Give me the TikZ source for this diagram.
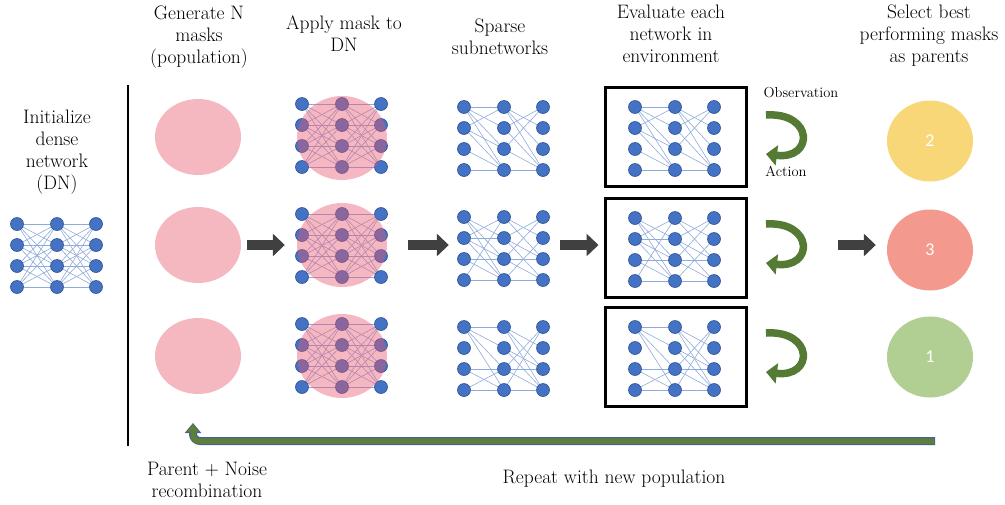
\documentclass[tikz,border=0pt]{standalone}
\usepackage{fontspec}
\newfontfamily\digitfont{Carlito}
\usetikzlibrary{arrows.meta,shapes.geometric,calc}
\definecolor{nodeblue}{HTML}{4472C4}
\definecolor{nodeedge}{HTML}{2F528F}
\definecolor{linkblue}{HTML}{8FAADC}
\definecolor{maskpink}{HTML}{F5B8C1}
\definecolor{veilred}{HTML}{E85870}
\definecolor{arrowgray}{HTML}{404040}
\definecolor{loopgreen}{HTML}{557A34}
\definecolor{retgreen}{HTML}{5E7F3C}
\definecolor{retedge}{HTML}{44648A}
\definecolor{goldfit}{HTML}{F8D778}
\definecolor{salmonfit}{HTML}{F4998D}
\definecolor{sagefit}{HTML}{B1CE93}
\pgfdeclarelayer{links}
\pgfsetlayers{links,main}
\tikzset{
  neuron/.style={circle,fill=nodeblue,draw=nodeedge,line width=0.6pt,
    minimum size=13pt,inner sep=0pt},
  link/.style={draw=linkblue,line width=0.6pt},
  maskblob/.style={ellipse,fill=maskpink,minimum width=86pt,
    minimum height=76pt,inner sep=0pt},
  maskveil/.style={ellipse,fill=veilred,fill opacity=0.43,
    minimum width=90pt,minimum height=84pt,inner sep=0pt},
  netarea/.style={rectangle,minimum width=94pt,minimum height=76pt,inner sep=0pt},
  envbox/.style={rectangle,draw=black,line width=3pt,minimum width=141pt,
    minimum height=99pt,inner sep=0pt},
  fitblob/.style={ellipse,minimum width=86pt,minimum height=81pt,inner sep=0pt,
    text=white,font=\digitfont\fontsize{18}{18}\selectfont},
  steparrow/.style={-{Triangle[length=12pt,width=22pt]},line width=10pt,
    draw=arrowgray},
  cyclearrow/.style={-{Triangle[length=11pt,width=20pt]},line width=7.5pt,
    draw=loopgreen},
  hdr/.style={align=center,inner sep=0pt,anchor=north,
    font=\fontsize{19.5}{22}\selectfont},
  cuelabel/.style={inner sep=0pt,font=\fontsize{14.5}{16}\selectfont},
}
% 4-4-4 network: nodes <name>a1..c4, plus an area node <name>
\newcommand{\netnodes}[3]{%
  \node[netarea] (#1) at (#2,#3) {};
  \foreach \col/\dx in {a/-40,b/0,c/39}
    \foreach \row/\dy in {1/-31,2/-10,3/11,4/32}
      \node[neuron] (#1\col\row) at ({#2+\dx},{#3+\dy}) {};
}
\newcommand{\fulllinks}[1]{%
  \begin{pgfonlayer}{links}
    \foreach \i in {1,...,4}
      \foreach \j in {1,...,4} {
        \draw[link] (#1a\i) -- (#1b\j);
        \draw[link] (#1b\i) -- (#1c\j);
      }
  \end{pgfonlayer}
}
\newcommand{\netlinks}[2]{%
  \begin{pgfonlayer}{links}
    \foreach \p/\q in #2 \draw[link] (#1\p) -- (#1\q);
  \end{pgfonlayer}
}
\def\sparseA{a1/b1,a1/b2,a1/b3,a1/b4,a2/b1,a2/b3,a2/b4,a3/b4,a4/b4,
  b1/c2,b1/c3,b1/c4,b2/c1,b2/c4,b3/c1,b3/c4,b4/c4}
\def\sparseB{a1/b2,a1/b3,a1/b4,a2/b1,a2/b2,a2/b3,a2/b4,a3/b3,a3/b4,a4/b1,a4/b4,
  b1/c2,b1/c3,b2/c1,b2/c3,b2/c4,b3/c1,b3/c3,b3/c4,b4/c2,b4/c4}
\def\sparseC{a1/b1,a1/b2,a1/b3,a1/b4,a3/b3,a3/b4,a4/b3,a4/b4,
  b1/c2,b1/c3,b1/c4,b2/c3,b2/c4,b3/c1,b3/c3,b3/c4,b4/c1,b4/c4}

\begin{document}
\begin{tikzpicture}[x=1pt,y=-1pt]
  \useasboundingbox (0,0) rectangle (1005,504);

  % headings
  \node[hdr] (hinit) at (57,110) {Initialize\\dense\\network\\(DN)};
  \node[hdr] (hgen) at (199,6) {Generate N\\masks\\(population)};
  \node[hdr] (happ) at (344,16) {Apply mask to\\DN};
  \node[hdr] (hspa) at (500,19) {Sparse\\subnetworks};
  \node[hdr] (heva) at (671,5) {Evaluate each\\network in\\environment};
  \node[hdr] (hsel) at (929,5) {Select best\\performing masks\\as parents};

  % divider
  \coordinate (divtop) at (128,85);
  \coordinate (divbot) at (128,446);
  \draw[line width=2pt] (divtop) -- (divbot);

  % dense network
  \netnodes{dn}{57}{255}
  \fulllinks{dn}

  % population of masks
  \node[maskblob] (m1) at (198,137) {};
  \node[maskblob] (m2) at (198,245) {};
  \node[maskblob] (m3) at (198,356) {};

  % masked dense networks
  \netnodes{ap1}{342}{135}
  \fulllinks{ap1}
  \netnodes{ap2}{342}{245}
  \fulllinks{ap2}
  \netnodes{ap3}{342}{355}
  \fulllinks{ap3}
  \node[maskveil] (v1) at (342,138) {};
  \node[maskveil] (v2) at (342,245) {};
  \node[maskveil] (v3) at (342,356) {};

  % sparse subnetworks
  \netnodes{sp1}{504}{138}
  \netlinks{sp1}{\sparseA}
  \netnodes{sp2}{504}{248}
  \netlinks{sp2}{\sparseB}
  \netnodes{sp3}{504}{358}
  \netlinks{sp3}{\sparseC}

  % evaluation in environment
  \node[envbox] (e1) at (676,137) {};
  \node[envbox] (e2) at (675.5,248) {};
  \node[envbox] (e3) at (675.5,357) {};
  \netnodes{en1}{675}{138}
  \netlinks{en1}{\sparseA}
  \netnodes{en2}{675}{249}
  \netlinks{en2}{\sparseB}
  \netnodes{en3}{675}{358}
  \netlinks{en3}{\sparseC}

  % observation / action loops
  \foreach \k/\dy in {1/0,2/109,3/218} {
    \coordinate (obs\k) at (766,115+\dy);
    \coordinate (act\k) at (766,154+\dy);
    \draw[cyclearrow] (obs\k) .. controls (814,112+\dy) and (814,160+\dy) .. (act\k);
  }
  \node[cuelabel] (obs) at (801,93) {Observation};
  \node[cuelabel] (act) at (786,171) {Action};

  % selected parents
  \node[fitblob,fill=goldfit] (f1) at (930,141) {2};
  \node[fitblob,fill=salmonfit] (f2) at (930,250) {3};
  \node[fitblob,fill=sagefit] (f3) at (930,357) {1};

  % pipeline arrows
  \draw[steparrow,shorten <=6pt,shorten >=12pt] (m2) -- (v2);
  \draw[steparrow,shorten <=21pt,shorten >=8pt] (v2.east) -- (v2.east -| sp2.west);
  \draw[steparrow,shorten <=9pt,shorten >=5pt] (sp2.east |- v2.east) -- (e2.west |- v2.east);
  \draw[steparrow,shorten <=90pt,shorten >=11pt] (e2.east |- v2.east) -- (f2.west |- v2.east);

  % repeat loop
  \coordinate (retstart) at (935,441);
  \coordinate (retend) at (193,423);
  \draw[line width=8pt,draw=retedge,rounded corners=7pt,
    -{Triangle[length=10pt,width=16pt]}] (retstart) -| (retend);
  \draw[line width=5.5pt,draw=retgreen,rounded corners=6pt,
    -{Triangle[length=8pt,width=12pt]},shorten <=1pt,shorten >=1pt] (retstart) -| (retend);

  \node[hdr] (hpar) at (207,462) {Parent + Noise\\recombination};
  \node[hdr] (hrep) at (614,470) {Repeat with new population};
\end{tikzpicture}
\end{document}
